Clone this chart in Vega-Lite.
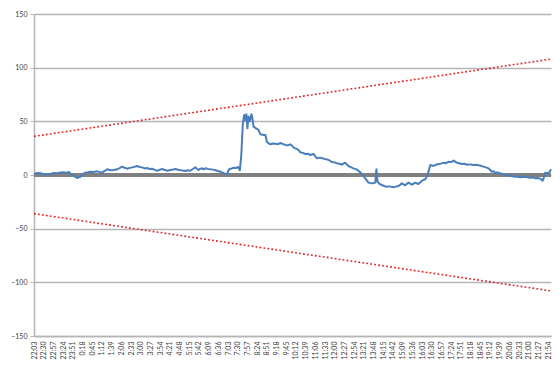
{
  "$schema": "https://vega.github.io/schema/vega-lite/v6.json",
  "width": 517,
  "height": 322,
  "autosize": {"type": "none"},
  "padding": {"left": 34, "top": 14, "right": 9, "bottom": 33},
  "background": "white",
  "config": {
    "view": {"stroke": null},
    "axis": {
      "labelFont": "Lato",
      "labelFontSize": 7,
      "labelColor": "#404040",
      "domainColor": "#b5b5b5",
      "tickColor": "#b5b5b5",
      "gridColor": "#b5b5b5",
      "domainWidth": 1.5,
      "tickSize": 4,
      "title": null
    }
  },
  "datasets": {
    "series": [
      {"m": 0, "v": 0.9}, {"m": 9, "v": 1.8}, {"m": 18, "v": 1.6}, {"m": 30, "v": 0.6},
      {"m": 46, "v": 0.9}, {"m": 55, "v": 1.9}, {"m": 64, "v": 1.6}, {"m": 74, "v": 2.3},
      {"m": 83, "v": 2.5}, {"m": 90, "v": 1.9}, {"m": 97, "v": 2.8}, {"m": 106, "v": 0},
      {"m": 114, "v": -1.5}, {"m": 120, "v": -2.8}, {"m": 129, "v": -1.7}, {"m": 136, "v": 0.8},
      {"m": 143, "v": 2.2}, {"m": 150, "v": 2.6}, {"m": 157, "v": 3.1}, {"m": 166, "v": 2.7},
      {"m": 176, "v": 3.4}, {"m": 190, "v": 2.2}, {"m": 197, "v": 3.9}, {"m": 204, "v": 5.3},
      {"m": 213, "v": 4.4}, {"m": 222, "v": 4.7}, {"m": 231, "v": 5.3}, {"m": 238, "v": 6.4},
      {"m": 245, "v": 7.7}, {"m": 252, "v": 6.8}, {"m": 259, "v": 5.9}, {"m": 266, "v": 6.6},
      {"m": 273, "v": 7.1}, {"m": 280, "v": 7.6}, {"m": 287, "v": 8.4}, {"m": 294, "v": 7.5},
      {"m": 301, "v": 7.1}, {"m": 308, "v": 6.1}, {"m": 315, "v": 6.5}, {"m": 322, "v": 5.5},
      {"m": 329, "v": 5.9}, {"m": 336, "v": 4.8}, {"m": 343, "v": 4.0}, {"m": 350, "v": 4.9},
      {"m": 357, "v": 5.6}, {"m": 364, "v": 4.6}, {"m": 371, "v": 4.0}, {"m": 380, "v": 4.7},
      {"m": 387, "v": 5.1}, {"m": 394, "v": 5.6}, {"m": 401, "v": 4.9}, {"m": 408, "v": 4.4},
      {"m": 414, "v": 4.1}, {"m": 421, "v": 3.7}, {"m": 428, "v": 4.4}, {"m": 435, "v": 4.0},
      {"m": 442, "v": 5.6}, {"m": 449, "v": 7.2}, {"m": 453, "v": 5.8}, {"m": 458, "v": 4.7},
      {"m": 463, "v": 5.9}, {"m": 468, "v": 6.2}, {"m": 472, "v": 5.2}, {"m": 477, "v": 6.2},
      {"m": 484, "v": 5.7}, {"m": 491, "v": 5.3}, {"m": 498, "v": 5.0}, {"m": 505, "v": 4.4},
      {"m": 512, "v": 3.8}, {"m": 519, "v": 3.1}, {"m": 528, "v": 1.8}, {"m": 537, "v": 0.6},
      {"m": 541, "v": 4.1}, {"m": 544, "v": 5.6}, {"m": 550, "v": 6.1}, {"m": 556, "v": 6.8},
      {"m": 562, "v": 6.5}, {"m": 568, "v": 7.5}, {"m": 573, "v": 4.4}, {"m": 577, "v": 18.6},
      {"m": 581, "v": 46.6}, {"m": 585, "v": 55.9}, {"m": 588, "v": 51.0}, {"m": 591, "v": 56.6},
      {"m": 594, "v": 43.5}, {"m": 597, "v": 54.4}, {"m": 601, "v": 50.0}, {"m": 605, "v": 56.6},
      {"m": 608, "v": 52.8}, {"m": 611, "v": 45.0}, {"m": 618, "v": 43.5}, {"m": 625, "v": 42.0},
      {"m": 630, "v": 37.9}, {"m": 639, "v": 37.3}, {"m": 644, "v": 37.3}, {"m": 648, "v": 31.0},
      {"m": 653, "v": 29.5}, {"m": 658, "v": 28.6}, {"m": 665, "v": 29.4}, {"m": 672, "v": 29.2},
      {"m": 679, "v": 28.7}, {"m": 686, "v": 29.8}, {"m": 692, "v": 29.0}, {"m": 699, "v": 28.0},
      {"m": 706, "v": 27.6}, {"m": 713, "v": 28.6}, {"m": 718, "v": 27.2}, {"m": 723, "v": 25.5},
      {"m": 729, "v": 24.6}, {"m": 736, "v": 23.3}, {"m": 741, "v": 21.2}, {"m": 748, "v": 20.6},
      {"m": 755, "v": 19.6}, {"m": 762, "v": 19.9}, {"m": 769, "v": 18.6}, {"m": 778, "v": 19.6},
      {"m": 783, "v": 17.4}, {"m": 788, "v": 15.5}, {"m": 795, "v": 16.2}, {"m": 801, "v": 15.8},
      {"m": 808, "v": 15.0}, {"m": 815, "v": 14.6}, {"m": 822, "v": 13.6}, {"m": 829, "v": 12.1},
      {"m": 836, "v": 11.8}, {"m": 843, "v": 10.9}, {"m": 850, "v": 10.5}, {"m": 857, "v": 9.6},
      {"m": 866, "v": 11.5}, {"m": 875, "v": 8.4}, {"m": 882, "v": 7.3}, {"m": 889, "v": 6.2},
      {"m": 896, "v": 5.5}, {"m": 903, "v": 4.0}, {"m": 913, "v": 0.9}, {"m": 922, "v": -3.1},
      {"m": 931, "v": -7.1}, {"m": 940, "v": -7.8}, {"m": 946, "v": -7.4}, {"m": 950, "v": -7.1},
      {"m": 953, "v": 5.3}, {"m": 956, "v": -6.2}, {"m": 962, "v": -8.4}, {"m": 968, "v": -9.3},
      {"m": 975, "v": -10.2}, {"m": 982, "v": -10.9}, {"m": 990, "v": -10.6}, {"m": 1001, "v": -11.5},
      {"m": 1008, "v": -10.8}, {"m": 1015, "v": -10.3}, {"m": 1024, "v": -7.8}, {"m": 1033, "v": -9.6},
      {"m": 1042, "v": -7.1}, {"m": 1052, "v": -9.0}, {"m": 1061, "v": -7.1}, {"m": 1070, "v": -8.4},
      {"m": 1080, "v": -5.3}, {"m": 1089, "v": -4.0}, {"m": 1095, "v": 0}, {"m": 1100, "v": 5.5},
      {"m": 1103, "v": 9.3}, {"m": 1112, "v": 8.4}, {"m": 1119, "v": 9.6}, {"m": 1126, "v": 10.3},
      {"m": 1133, "v": 10.6}, {"m": 1140, "v": 11.5}, {"m": 1147, "v": 11.0}, {"m": 1154, "v": 12.4},
      {"m": 1161, "v": 12.0}, {"m": 1168, "v": 13.4}, {"m": 1177, "v": 11.5}, {"m": 1184, "v": 11.0},
      {"m": 1191, "v": 10.3}, {"m": 1198, "v": 10.5}, {"m": 1205, "v": 9.6}, {"m": 1214, "v": 9.9},
      {"m": 1223, "v": 9.3}, {"m": 1230, "v": 9.5}, {"m": 1237, "v": 9.0}, {"m": 1244, "v": 8.6},
      {"m": 1251, "v": 7.8}, {"m": 1258, "v": 7.1}, {"m": 1265, "v": 6.2}, {"m": 1270, "v": 4.6},
      {"m": 1274, "v": 3.1}, {"m": 1279, "v": 3.6}, {"m": 1283, "v": 2.2}, {"m": 1290, "v": 2.4},
      {"m": 1297, "v": 1.6}, {"m": 1304, "v": 1.0}, {"m": 1311, "v": 0.6}, {"m": 1318, "v": 0.1},
      {"m": 1325, "v": -0.9}, {"m": 1332, "v": -1.1}, {"m": 1339, "v": -1.6}, {"m": 1346, "v": -1.4},
      {"m": 1353, "v": -2.2}, {"m": 1360, "v": -1.8}, {"m": 1367, "v": -1.6}, {"m": 1374, "v": -2.0},
      {"m": 1381, "v": -2.5}, {"m": 1388, "v": -2.2}, {"m": 1395, "v": -3.1}, {"m": 1402, "v": -2.8},
      {"m": 1409, "v": -3.4}, {"m": 1416, "v": -5.3}, {"m": 1420, "v": -1.5}, {"m": 1423, "v": 2.2},
      {"m": 1428, "v": 1.9}, {"m": 1432, "v": 1.6}, {"m": 1436, "v": 3.4}, {"m": 1439, "v": 5.3}
    ],
    "zero": [
      {"m": 0, "v": 0},
      {"m": 1439, "v": 0}
    ],
    "limits": [
      {"side": "upper", "m": 0, "v": 36},
      {"side": "upper", "m": 1439, "v": 108},
      {"side": "lower", "m": 0, "v": -36},
      {"side": "lower", "m": 1439, "v": -108}
    ]
  },
  "encoding": {
    "x": {
      "field": "m",
      "type": "quantitative",
      "scale": {"domain": [0, 1439], "nice": false, "zero": false},
      "axis": {
        "values": [0, 27, 54, 81, 108, 135, 162, 189, 216, 243, 270, 297, 324, 351, 378, 405, 432, 459, 486, 513, 540, 567, 594, 621, 648, 675, 702, 729, 756, 783, 810, 837, 864, 891, 918, 945, 972, 999, 1026, 1053, 1080, 1107, 1134, 1161, 1188, 1215, 1242, 1269, 1296, 1323, 1350, 1377, 1404, 1431],
        "labelExpr": "floor(((datum.value + 1323) % 1440) / 60) + ':' + pad(toString((datum.value + 1323) % 60), 2, '0', 'left')",
        "labelAngle": -90,
        "labelAlign": "right",
        "labelBaseline": "middle",
        "labelPadding": 5,
        "labelOverlap": false,
        "labelFlush": false,
        "grid": false,
        "ticks": false
      }
    },
    "y": {
      "field": "v",
      "type": "quantitative",
      "scale": {"domain": [-150, 150], "nice": false},
      "axis": {
        "values": [-150, -100, -50, 0, 50, 100, 150],
        "grid": true,
        "gridWidth": 1.5,
        "labelPadding": 3,
        "ticks": true
      }
    }
  },
  "layer": [
    {
      "data": {"name": "zero"},
      "mark": {"type": "line", "color": "#808080", "strokeWidth": 4}
    },
    {
      "data": {"name": "limits"},
      "mark": {"type": "line", "color": "#e02424", "strokeWidth": 1.6, "strokeDash": [1.8, 2.2]},
      "encoding": {"detail": {"field": "side"}}
    },
    {
      "data": {"name": "series"},
      "mark": {"type": "line", "color": "#4a7ebb", "strokeWidth": 2, "strokeJoin": "round"}
    }
  ]
}
